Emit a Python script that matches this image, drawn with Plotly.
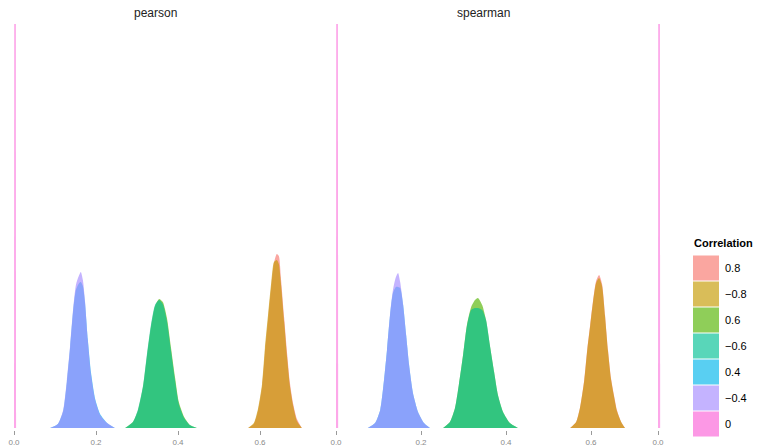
import plotly.graph_objects as go

# ---------------- data ----------------
CATEGORIES = ["0.8", "\u22120.8", "0.6", "\u22120.6", "0.4", "\u22120.4", "0"]
HUES = ["#F8766D", "#C49A00", "#53B400", "#00C094", "#00B6EB", "#A58AFF", "#FB61D7"]
PANELS = ["pearson", "spearman", ""]
TICKS = [0.0, 0.2, 0.4, 0.6]

# pearson
PEARSON_X_08 = [0.571, 0.585, 0.595, 0.605, 0.612, 0.620, 0.627, 0.634, 0.641, 0.646, 0.651, 0.659, 0.666, 0.673, 0.681, 0.690, 0.702]
PEARSON_D_POS08 = [0, 0.4, 1.7, 4.1, 7.5, 11.0, 14.0, 16.5, 17.4, 17.2, 15.0, 11.0, 7.5, 4.5, 2.4, 0.9, 0]
PEARSON_D_NEG08 = [0, 0.5, 1.9, 4.4, 8.0, 11.5, 14.4, 16.6, 16.8, 16.4, 14.5, 10.6, 7.1, 4.2, 2.2, 0.7, 0]
PEARSON_X_06 = [0.271, 0.290, 0.302, 0.315, 0.324, 0.334, 0.344, 0.354, 0.363, 0.373, 0.383, 0.393, 0.402, 0.415, 0.429, 0.446]
PEARSON_D_POS06 = [0, 0.6, 1.7, 4.2, 7.1, 10.1, 12.2, 12.9, 12.6, 11.0, 8.0, 5.0, 2.6, 1.1, 0.3, 0]
PEARSON_D_NEG06 = [0, 0.6, 1.8, 4.3, 7.3, 10.3, 12.3, 12.8, 12.4, 10.7, 7.7, 4.7, 2.4, 1.0, 0.3, 0]
PEARSON_X_04 = [0.088, 0.107, 0.120, 0.129, 0.137, 0.144, 0.151, 0.159, 0.163, 0.168, 0.173, 0.180, 0.188, 0.198, 0.210, 0.227, 0.246]
PEARSON_D_POS04 = [0, 0.4, 1.7, 4.6, 8.1, 11.6, 13.8, 14.5, 14.6, 14.2, 12.6, 8.9, 5.5, 2.9, 1.4, 0.5, 0]
PEARSON_D_NEG04 = [0, 0.4, 1.8, 4.8, 8.3, 11.8, 14.3, 15.3, 15.6, 14.8, 12.8, 8.8, 5.3, 2.8, 1.3, 0.5, 0]

# spearman
SPEARMAN_X_08 = [0.551, 0.565, 0.574, 0.584, 0.591, 0.598, 0.605, 0.612, 0.619, 0.626, 0.633, 0.640, 0.647, 0.654, 0.661, 0.671, 0.680]
SPEARMAN_D_POS08 = [0, 0.6, 2.0, 4.8, 7.8, 10.3, 12.8, 14.7, 15.3, 14.4, 11.3, 7.8, 5.0, 3.3, 1.8, 0.6, 0]
SPEARMAN_D_NEG08 = [0, 0.6, 2.0, 4.7, 7.7, 10.2, 12.7, 14.5, 15.0, 14.2, 11.2, 7.7, 4.9, 3.2, 1.7, 0.6, 0]
SPEARMAN_X_06 = [0.252, 0.268, 0.280, 0.289, 0.299, 0.308, 0.318, 0.327, 0.334, 0.344, 0.353, 0.362, 0.372, 0.381, 0.393, 0.409, 0.428]
SPEARMAN_D_POS06 = [0, 0.6, 2.0, 4.3, 7.3, 10.3, 12.1, 12.8, 13.0, 12.3, 10.8, 8.3, 5.6, 3.3, 1.6, 0.5, 0]
SPEARMAN_D_NEG06 = [0, 0.6, 2.0, 4.3, 7.3, 10.2, 11.8, 12.0, 12.0, 11.8, 10.8, 8.3, 5.6, 3.3, 1.6, 0.5, 0]
SPEARMAN_X_04 = [0.075, 0.092, 0.104, 0.113, 0.120, 0.127, 0.134, 0.141, 0.146, 0.151, 0.158, 0.165, 0.172, 0.181, 0.193, 0.207, 0.221]
SPEARMAN_D_POS04 = [0, 0.5, 1.8, 4.8, 7.8, 11.2, 13.5, 14.1, 14.1, 14.0, 12.3, 9.3, 6.3, 3.5, 1.6, 0.5, 0]
SPEARMAN_D_NEG04 = [0, 0.5, 1.8, 4.8, 7.8, 11.3, 13.8, 15.1, 15.5, 14.6, 12.3, 9.3, 6.3, 3.5, 1.6, 0.5, 0]

# zero-correlation spike (same in every panel)
ZERO_X = [0.000, 0.0005, 0.0045, 0.005]
ZERO_D = [0, 40.4, 40.4, 0]

ALPHA = 0.65


def rgba(hexc, a):
    h = hexc.lstrip("#")
    r, g, b = int(h[0:2], 16), int(h[2:4], 16), int(h[4:6], 16)
    return f"rgba({r},{g},{b},{a})"


panel_curves = [
    [(PEARSON_X_08, PEARSON_D_POS08), (PEARSON_X_08, PEARSON_D_NEG08),
     (PEARSON_X_06, PEARSON_D_POS06), (PEARSON_X_06, PEARSON_D_NEG06),
     (PEARSON_X_04, PEARSON_D_POS04), (PEARSON_X_04, PEARSON_D_NEG04),
     (ZERO_X, ZERO_D)],
    [(SPEARMAN_X_08, SPEARMAN_D_POS08), (SPEARMAN_X_08, SPEARMAN_D_NEG08),
     (SPEARMAN_X_06, SPEARMAN_D_POS06), (SPEARMAN_X_06, SPEARMAN_D_NEG06),
     (SPEARMAN_X_04, SPEARMAN_D_POS04), (SPEARMAN_X_04, SPEARMAN_D_NEG04),
     (ZERO_X, ZERO_D)],
    [(ZERO_X, ZERO_D)],
]
panel_cats = [list(range(7)), list(range(7)), [6]]

W, H = 757, 447
FONT = "Liberation Sans, Arial, Helvetica, sans-serif"

fig = go.Figure()
for p, curves in enumerate(panel_curves):
    xa = "x" if p == 0 else f"x{p+1}"
    ya = "y" if p == 0 else f"y{p+1}"
    for ci, (xs, ds) in zip(panel_cats[p], curves):
        shape = "linear" if ci == 6 else "spline"
        fig.add_trace(go.Scatter(
            x=xs, y=ds, xaxis=xa, yaxis=ya, mode="lines",
            line=dict(width=0, shape=shape, smoothing=0.6),
            fill="tozeroy", fillcolor=rgba(HUES[ci], 0.55 if ci == 6 else ALPHA),
            name=CATEGORIES[ci], showlegend=False, hoverinfo="skip"))

# panel geometry (pixels)
panel_px = [(5, 305, 14, 410), (327, 640, 336, 425), (649, 757, 658, 425)]
ydom = [(H - 430) / H, (H - 20) / H]
layout = dict(
    width=W, height=H, margin=dict(l=0, r=0, t=0, b=0),
    paper_bgcolor="white", plot_bgcolor="white", showlegend=False,
    font=dict(family=FONT),
)
for p, (a, b, zero, scale) in enumerate(panel_px):
    key = "xaxis" if p == 0 else f"xaxis{p+1}"
    ykey = "yaxis" if p == 0 else f"yaxis{p+1}"
    tv = TICKS if p < 2 else [0.0]
    layout[key] = dict(
        domain=[a / W, b / W], range=[(a - zero) / scale, (b - zero) / scale],
        tickvals=tv, ticktext=[f"{t:.1f}" for t in tv],
        ticks="outside", ticklen=4, tickwidth=1, tickcolor="#9a9a9a",
        tickfont=dict(size=8, color="#8a8a8a", family=FONT),
        showgrid=False, zeroline=False, showline=False, automargin=False,
        anchor="y" if p == 0 else f"y{p+1}", fixedrange=True)
    layout[ykey] = dict(
        domain=ydom, range=[-0.2, 40.8], showticklabels=False, ticks="",
        showgrid=False, zeroline=False, showline=False,
        anchor="x" if p == 0 else f"x{p+1}", fixedrange=True)
fig.update_layout(**layout)

# facet titles
for p, (a, b, zero, scale) in enumerate(panel_px[:2]):
    fig.add_annotation(text=PANELS[p], xref="paper", yref="paper",
                       x=(a + b) / 2 / W, y=(H - 13) / H, showarrow=False,
                       font=dict(size=12, color="#222222", family=FONT),
                       xanchor="center", yanchor="middle")

# legend (drawn like ggplot's key boxes)
fig.add_shape(type="rect", xref="paper", yref="paper",
              x0=686 / W, x1=1, y0=0, y1=(H - 232) / H,
              fillcolor="white", line=dict(width=0), layer="above")
fig.add_annotation(text="<b>Correlation</b>", xref="paper", yref="paper",
                   x=692 / W, y=(H - 243) / H, showarrow=False,
                   xanchor="left", yanchor="middle",
                   font=dict(size=11, color="black", family=FONT))
key_top, key_h = 255, 26
for i, cat in enumerate(CATEGORIES):
    y0 = key_top + i * key_h
    fig.add_shape(type="rect", xref="paper", yref="paper",
                  x0=693 / W, x1=719 / W, y0=(H - (y0 + key_h - 0.5)) / H, y1=(H - (y0 + 0.5)) / H,
                  fillcolor=rgba(HUES[i], ALPHA), line=dict(width=0), layer="above")
    fig.add_annotation(text=cat, xref="paper", yref="paper",
                       x=723 / W, y=(H - (y0 + key_h / 2)) / H, showarrow=False,
                       xanchor="left", yanchor="middle",
                       font=dict(size=11, color="black", family=FONT))

fig.write_html("out.html",
               config={"displayModeBar": False, "staticPlot": True},
               post_script="document.body.style.margin='0';document.body.style.overflow='hidden';")
